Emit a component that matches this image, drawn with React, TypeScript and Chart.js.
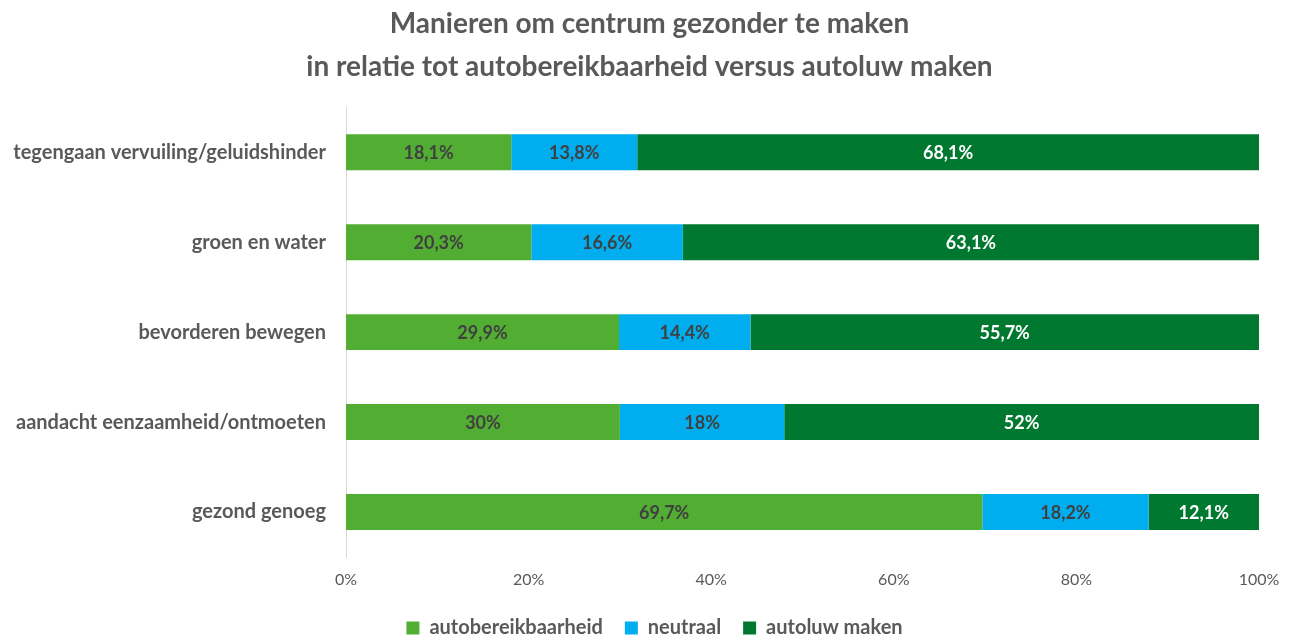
import React, { useEffect, useRef } from "react";
import { Chart, registerables } from "chart.js";

Chart.register(...registerables);

const TITLE_LINES = [
  "Manieren om centrum gezonder te maken",
  "in relatie tot autobereikbaarheid versus autoluw maken",
];
const CATEGORIES = [
  "tegengaan vervuiling/geluidshinder",
  "groen en water",
  "bevorderen bewegen",
  "aandacht eenzaamheid/ontmoeten",
  "gezond genoeg",
];
const SERIES_NAMES = ["autobereikbaarheid", "neutraal", "autoluw maken"];
const AUTOBEREIKBAARHEID = [18.1, 20.3, 29.9, 30, 69.7];
const NEUTRAAL = [13.8, 16.6, 14.4, 18, 18.2];
const AUTOLUW = [68.1, 63.1, 55.7, 52, 12.1];
const X_TICKS = [0, 20, 40, 60, 80, 100];

const COLORS = ["#52AE32", "#00AEEF", "#00782F"];
const LABEL_COLORS = ["#404040", "#404040", "#FFFFFF"];
const FONT = "Lato, 'Noto Sans', sans-serif";

const fmt = (v: number) => String(v).replace(".", ",") + "%";

const dataLabelPlugin = {
  id: "barLabels",
  afterDatasetsDraw(chart: any) {
    const ctx = chart.ctx;
    ctx.save();
    ctx.font = `bold 18px ${FONT}`;
    ctx.textAlign = "center";
    ctx.textBaseline = "middle";
    chart.data.datasets.forEach((ds: any, di: number) => {
      const meta = chart.getDatasetMeta(di);
      meta.data.forEach((el: any, i: number) => {
        const x = (el.x + el.base) / 2;
        ctx.fillStyle = LABEL_COLORS[di];
        ctx.fillText(fmt(ds.data[i]), x, el.y + 1);
      });
    });
    ctx.restore();
  },
};

const boxShiftPlugin = {
  id: "boxShift",
  afterLayout(chart: any) {
    const lg = chart.legend;
    if (lg) {
      lg.top += 11;
      lg.bottom += 11;
      lg.left += 25;
      lg.right += 25;
    }
    const tb = chart.titleBlock;
    if (tb) {
      tb.left += 20;
      tb.right += 20;
    }
  },
};

export default function App() {
  const ref = useRef<HTMLCanvasElement | null>(null);
  useEffect(() => {
    document.body.style.margin = "0";
    const values = [AUTOBEREIKBAARHEID, NEUTRAAL, AUTOLUW];
    const chart = new Chart(ref.current as HTMLCanvasElement, {
      type: "bar",
      data: {
        labels: CATEGORIES,
        datasets: SERIES_NAMES.map((name, i) => ({
          label: name,
          data: values[i],
          backgroundColor: COLORS[i],
          borderWidth: 0,
          categoryPercentage: 0.4,
          barPercentage: 1,
        })),
      },
      options: {
        indexAxis: "y",
        animation: false,
        responsive: false,
        maintainAspectRatio: false,
        layout: { padding: { left: 0, right: 37, top: 0, bottom: 0 } },
        plugins: {
          title: {
            display: true,
            text: TITLE_LINES,
            color: "#595959",
            font: { family: FONT, size: 28, weight: "bold", lineHeight: 1.54 },
            padding: { top: 2, bottom: 19 },
          },
          legend: {
            position: "bottom",
            labels: {
              boxWidth: 13,
              boxHeight: 13,
              color: "#595959",
              font: { family: FONT, size: 20, weight: "bold" },
              padding: 22,
            },
          },
          tooltip: { enabled: false },
        },
        scales: {
          x: {
            stacked: true,
            min: 0,
            max: 100,
            afterBuildTicks: (scale: any) => {
              scale.ticks = X_TICKS.map((v) => ({ value: v }));
            },
            afterFit: (scale: any) => {
              scale.height = 28;
            },
            ticks: {
              callback: (v: any) => v + "%",
              color: "#595959",
              font: { family: FONT, size: 16 },
              padding: 13,
            },
            grid: { display: false, drawTicks: false },
            border: { display: false },
          },
          y: {
            stacked: true,
            afterFit: (scale: any) => {
              scale.width = 346;
            },
            ticks: {
              color: "#595959",
              font: { family: FONT, size: 20, weight: "bold" },
              padding: 20,
            },
            grid: { display: false, drawTicks: false },
            border: { display: true, color: "#D9D9D9", width: 1 },
          },
        },
      },
      plugins: [dataLabelPlugin, boxShiftPlugin],
    });
    return () => chart.destroy();
  }, []);
  return (
    <div style={{ position: "fixed", left: 0, top: 0, width: 1296, height: 637, background: "#fff" }}>
      <canvas ref={ref} width={1296} height={637} style={{ width: 1296, height: 637 }} />
    </div>
  );
}
